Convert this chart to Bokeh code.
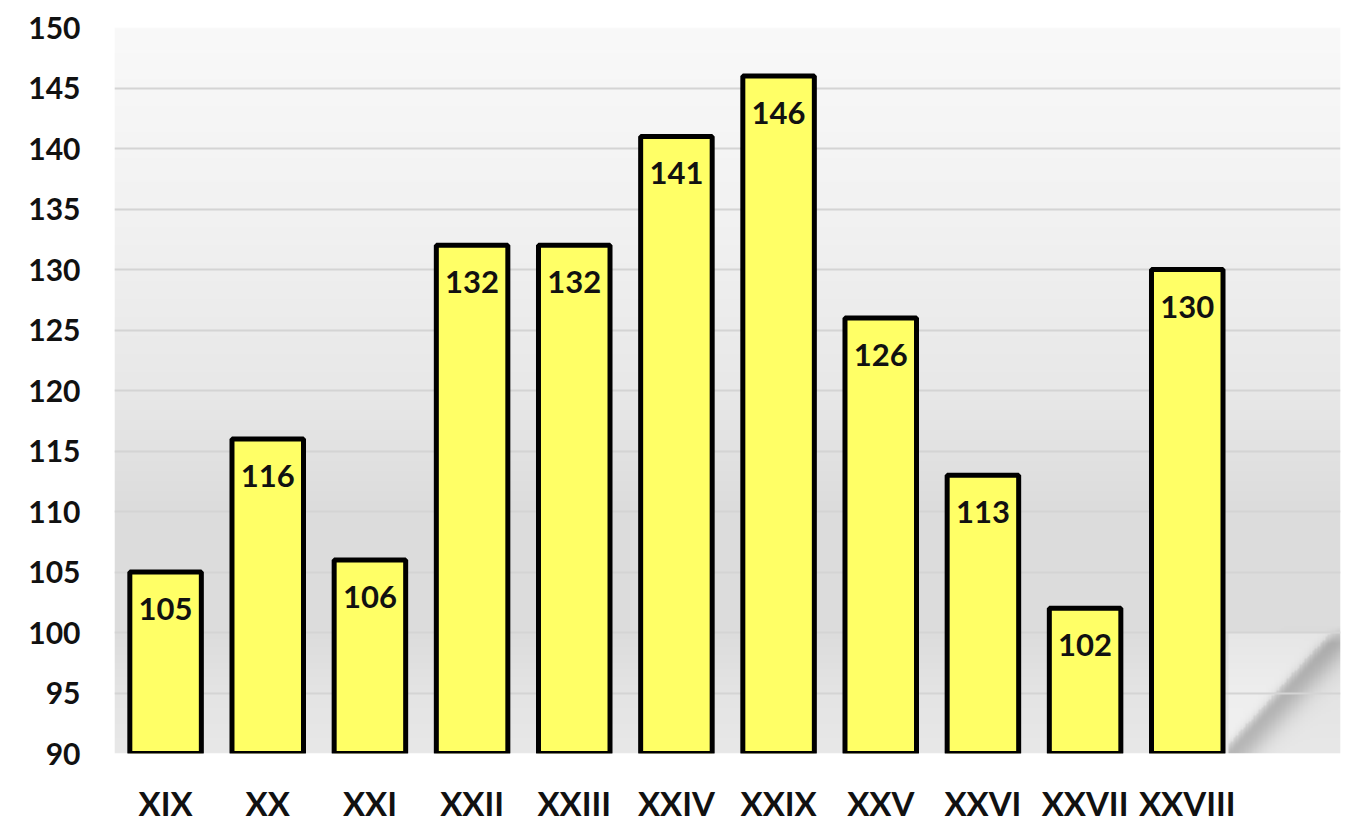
import numpy as np
from bokeh.plotting import figure
from bokeh.models import Range1d, FixedTicker, ColumnDataSource
from bokeh.core.properties import value
from bokeh.embed import file_html
from bokeh.resources import INLINE

categories = ["XIX", "XX", "XXI", "XXII", "XXIII", "XXIV", "XXIX", "XXV", "XXVI", "XXVII", "XXVIII"]
values = [105, 116, 106, 132, 132, 141, 146, 126, 113, 102, 130]
y_ticks = [90, 95, 100, 105, 110, 115, 120, 125, 130, 135, 140, 145, 150]

FONT = "Lato"
x_pos = [i + 0.5 for i in range(len(categories))]

p = figure(width=1350, height=825, output_backend="svg", toolbar_location=None,
           x_range=Range1d(0, 12), y_range=Range1d(90, 150),
           min_border_left=114, min_border_top=27, min_border_bottom=72, min_border_right=10)
p.outline_line_color = None
p.background_fill_color = "white"
p.border_fill_color = "white"

# background gradient with a soft floor shadow (style only)
ny, nx = 360, 480
ty = np.linspace(90, 150, ny)[:, None]
tx = np.linspace(0, 12, nx)[None, :]
stops_y = [90, 95, 100, 110, 120, 135, 150]
stops_c = [232, 228, 220, 220, 232, 242, 249]
base = np.interp(ty, stops_y, stops_c) * np.ones_like(tx)
# diagonal shadow band at lower right
line_y = 90 + (tx - 10.95) * (9.7 / 1.05)
d = line_y - ty  # positive below the edge
shade = np.where(d > 0, np.exp(-(d ** 2) / (2 * 1.6 ** 2)), np.exp(-(d ** 2) / (2 * 0.7 ** 2)))
shade = shade * np.clip((100.5 - ty) / 1.5, 0, 1) * (tx > 10.9)
lift = np.clip((line_y - ty + 1.0) < 0, 0, 1) * (ty < 100) * (tx > 10.9) * 10
base = base + lift - 48 * shade
g = np.clip(base, 0, 255).astype(np.uint32)
img = np.empty((ny, nx), dtype=np.uint32)
view = img.view(dtype=np.uint8).reshape((ny, nx, 4))
view[:, :, 0] = g
view[:, :, 1] = g
view[:, :, 2] = g
view[:, :, 3] = 255
p.image_rgba(image=[img], x=0, y=90, dw=12, dh=60, level="image")

src = ColumnDataSource(dict(x=x_pos, top=values, label=[str(v) for v in values]))
p.vbar(x="x", top="top", bottom=90, width=0.7, source=src,
       fill_color="#FFFF66", line_color="black", line_width=5)
p.text(x="x", y="top", text="label", source=src, text_align="center",
       text_baseline="middle", y_offset=37, text_font=value(FONT),
       text_font_style="bold", text_font_size="31px", text_color="#111111")

p.xaxis.ticker = FixedTicker(ticks=x_pos)
p.xaxis.major_label_overrides = {x: c for x, c in zip(x_pos, categories)}
p.yaxis.ticker = FixedTicker(ticks=y_ticks)
for ax in (p.xaxis, p.yaxis):
    ax.axis_line_color = None
    ax.major_tick_line_color = None
    ax.minor_tick_line_color = None
    ax.major_label_text_font = FONT
    ax.major_label_text_font_style = "bold"
    ax.major_label_text_color = "#111111"
p.xaxis.major_label_text_font_size = "33px"
p.yaxis.major_label_text_font_size = "30px"
p.xaxis.major_label_standoff = 23
p.yaxis.major_label_standoff = 28

p.xgrid.grid_line_color = None
p.ygrid.ticker = FixedTicker(ticks=y_ticks)
p.ygrid.grid_line_color = "#d4d4d4"
p.ygrid.grid_line_width = 2

open("out.html", "w").write(file_html(p, INLINE))
